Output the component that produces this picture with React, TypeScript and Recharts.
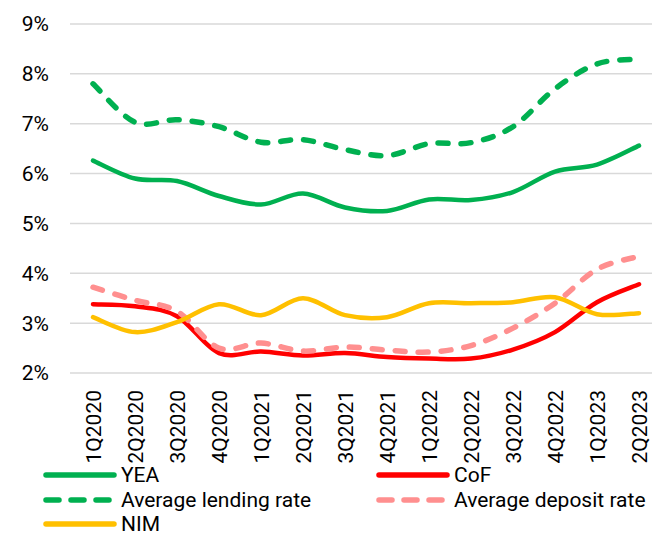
import React from "react";
import { LineChart, Line, XAxis, YAxis, CartesianGrid, Legend } from "recharts";

const quarters = ["1Q2020", "2Q2020", "3Q2020", "4Q2020", "1Q2021", "2Q2021", "3Q2021", "4Q2021", "1Q2022", "2Q2022", "3Q2022", "4Q2022", "1Q2023", "2Q2023"];
const yea = [6.26, 5.9, 5.85, 5.55, 5.38, 5.6, 5.32, 5.25, 5.48, 5.47, 5.63, 6.04, 6.18, 6.56];
const cof = [3.38, 3.34, 3.14, 2.4, 2.43, 2.35, 2.4, 2.32, 2.29, 2.29, 2.47, 2.82, 3.42, 3.78];
const lending = [7.8, 7.03, 7.08, 6.94, 6.63, 6.68, 6.48, 6.36, 6.6, 6.62, 6.94, 7.7, 8.2, 8.3];
const deposit = [3.72, 3.46, 3.24, 2.5, 2.6, 2.44, 2.52, 2.46, 2.42, 2.55, 2.9, 3.4, 4.08, 4.34];
const nim = [3.12, 2.82, 3.02, 3.38, 3.16, 3.5, 3.16, 3.12, 3.4, 3.4, 3.42, 3.52, 3.18, 3.2];
const yTicks = [2, 3, 4, 5, 6, 7, 8, 9];

const data = quarters.map((q, i) => ({
  q,
  yea: yea[i],
  cof: cof[i],
  lending: lending[i],
  deposit: deposit[i],
  nim: nim[i],
}));

const FONT = "Roboto, sans-serif";
const FS = 21;
const GREEN = "#00B050";
const RED = "#FF0000";
const PINK = "#FF8F8F";
const YELLOW = "#FFC000";

// Catmull-Rom style smoothing (similar to spreadsheet "smoothed line")
function smoothCurve(context: any) {
  let pts: number[][] = [];
  return {
    areaStart() {},
    areaEnd() {},
    lineStart() {
      pts = [];
    },
    lineEnd() {
      const n = pts.length;
      if (n === 0) return;
      context.moveTo(pts[0][0], pts[0][1]);
      if (n === 1) return;
      for (let i = 0; i < n - 1; i++) {
        const p0 = pts[Math.max(0, i - 1)];
        const p1 = pts[i];
        const p2 = pts[i + 1];
        const p3 = pts[Math.min(n - 1, i + 2)];
        context.bezierCurveTo(
          p1[0] + (p2[0] - p0[0]) / 6,
          p1[1] + (p2[1] - p0[1]) / 6,
          p2[0] - (p3[0] - p1[0]) / 6,
          p2[1] - (p3[1] - p1[1]) / 6,
          p2[0],
          p2[1]
        );
      }
    },
    point(x: number, y: number) {
      pts.push([+x, +y]);
    },
  };
}

const XTick = (props: any) => {
  const { x, y, payload } = props;
  const ty = y + 17;
  return (
    <text
      x={x}
      y={ty}
      transform={`rotate(-90, ${x}, ${ty})`}
      textAnchor="end"
      dy="0.36em"
      fontFamily={FONT}
      fontSize={FS}
      fill="#000"
    >
      {payload.value}
    </text>
  );
};

const legendItems = [
  { label: "YEA", color: GREEN, dashed: false, left: 43, top: 475 - 463 },
  { label: "CoF", color: RED, dashed: false, left: 376, top: 475 - 463 },
  { label: "Average lending rate", color: GREEN, dashed: true, left: 43, top: 499.5 - 463 },
  { label: "Average deposit rate", color: PINK, dashed: true, left: 376, top: 499.5 - 463 },
  { label: "NIM", color: YELLOW, dashed: false, left: 43, top: 523.5 - 463 },
];

const LegendContent = () => (
  <div style={{ position: "relative", width: 652, height: 73 }}>
    {legendItems.map((it) => (
      <div
        key={it.label}
        style={{
          position: "absolute",
          left: it.left,
          top: it.top - 9,
          height: 18,
          display: "flex",
          alignItems: "center",
          whiteSpace: "nowrap",
        }}
      >
        <svg width={74} height={10} style={{ display: "block" }}>
          <line
            x1={3}
            y1={5}
            x2={it.dashed ? 66 : 71}
            y2={5}
            stroke={it.color}
            strokeWidth={5.5}
            strokeLinecap="round"
            strokeDasharray={it.dashed ? "13 12" : undefined}
          />
        </svg>
        <span style={{ fontFamily: FONT, fontSize: FS, color: "#000", marginLeft: 4, lineHeight: "18px" }}>
          {it.label}
        </span>
      </div>
    ))}
  </div>
);

export default function App() {
  return (
    <div style={{ position: "absolute", left: 0, top: 0, width: 652, height: 536, background: "#fff" }}>
      <LineChart width={652} height={536} data={data} margin={{ top: 24, right: 0, left: 0, bottom: 0 }}>
        <CartesianGrid vertical={false} stroke="#D9D9D9" strokeWidth={1.5} />
        <XAxis
          dataKey="q"
          scale="point"
          padding={{ left: 23, right: 13 }}
          axisLine={false}
          tickLine={false}
          tickSize={0}
          tickMargin={0}
          height={90}
          interval={0}
          tick={<XTick />}
        />
        <YAxis
          width={70}
          domain={[2, 9]}
          ticks={yTicks}
          tickFormatter={(v: number) => `${v}%`}
          axisLine={false}
          tickLine={false}
          tickSize={0}
          tickMargin={21}
          tick={{ fontFamily: FONT, fontSize: FS, fill: "#000" }}
        />
        <Legend verticalAlign="bottom" height={73} content={<LegendContent />} wrapperStyle={{ left: 0, width: 652 }} />
        <Line dataKey="yea" name="YEA" type={smoothCurve as any} stroke={GREEN} strokeWidth={4.5} dot={false} activeDot={false} isAnimationActive={false} strokeLinecap="round" />
        <Line dataKey="cof" name="CoF" type={smoothCurve as any} stroke={RED} strokeWidth={4.5} dot={false} activeDot={false} isAnimationActive={false} strokeLinecap="round" />
        <Line dataKey="lending" name="Average lending rate" type={smoothCurve as any} stroke={GREEN} strokeWidth={5.5} strokeDasharray="10 13" strokeLinecap="round" dot={false} activeDot={false} isAnimationActive={false} />
        <Line dataKey="deposit" name="Average deposit rate" type={smoothCurve as any} stroke={PINK} strokeWidth={5.5} strokeDasharray="10 13" strokeLinecap="round" dot={false} activeDot={false} isAnimationActive={false} />
        <Line dataKey="nim" name="NIM" type={smoothCurve as any} stroke={YELLOW} strokeWidth={4.5} dot={false} activeDot={false} isAnimationActive={false} strokeLinecap="round" />
      </LineChart>
    </div>
  );
}
